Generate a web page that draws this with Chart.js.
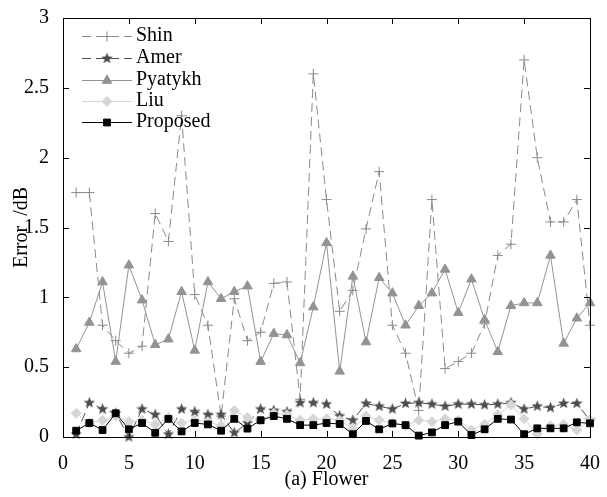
<!DOCTYPE html>
<html>
<head>
<meta charset="utf-8">
<script src="https://cdn.jsdelivr.net/npm/chart.js@4"></script>
<style>
  html, body { margin: 0; padding: 0; background: #fff; }
  #wrap { width: 607px; height: 497px; }
</style>
</head>
<body>
<div id="wrap"><canvas id="errorChart" width="607" height="497"></canvas></div>
<script>
const xValues = [1,2,3,4,5,6,7,8,9,10,11,12,13,14,15,16,17,18,19,20,21,22,23,24,25,26,27,28,29,30,31,32,33,34,35,36,37,38,39,40];
const shinVals = [1.75,1.75,0.80,0.69,0.60,0.65,1.60,1.40,2.30,1.02,0.80,0.15,0.99,0.69,0.75,1.10,1.11,0.27,2.60,1.70,0.90,1.05,1.49,1.90,0.80,0.60,0.19,1.70,0.49,0.54,0.60,0.81,1.30,1.38,2.70,2.00,1.54,1.54,1.70,0.80];
const amerVals = [0.02,0.245,0.20,0.17,0.00,0.20,0.16,0.02,0.20,0.18,0.16,0.16,0.03,0.10,0.20,0.19,0.18,0.245,0.245,0.235,0.15,0.12,0.24,0.22,0.20,0.24,0.245,0.235,0.22,0.235,0.235,0.23,0.235,0.245,0.20,0.22,0.21,0.24,0.24,0.12];
const pyatykhVals = [0.63,0.82,1.11,0.54,1.23,0.98,0.66,0.70,1.04,0.62,1.11,0.99,1.04,1.08,0.54,0.74,0.73,0.53,0.93,1.39,0.47,1.15,0.68,1.14,1.03,0.80,0.94,1.03,1.20,0.89,1.13,0.84,0.61,0.94,0.96,0.96,1.30,0.67,0.85,0.96];
const liuVals = [0.17,0.10,0.12,0.15,0.11,0.12,0.09,0.14,0.10,0.12,0.11,0.08,0.19,0.14,0.12,0.17,0.16,0.12,0.13,0.13,0.12,0.06,0.15,0.12,0.10,0.08,0.12,0.11,0.13,0.12,0.05,0.09,0.16,0.23,0.13,0.02,0.08,0.09,0.05,0.12];
const proposedVals = [0.045,0.10,0.05,0.17,0.055,0.10,0.03,0.13,0.04,0.10,0.09,0.045,0.13,0.06,0.12,0.15,0.13,0.085,0.085,0.10,0.093,0.02,0.115,0.055,0.097,0.085,0.01,0.033,0.085,0.11,0.014,0.055,0.13,0.125,0.02,0.062,0.062,0.062,0.105,0.098];
const xTicks = [0,5,10,15,20,25,30,35,40];
const yTicks = [0,0.5,1,1.5,2,2.5,3];

const serif = "'Liberation Serif', 'Times New Roman', serif";

// filled five point star, chart.js has no such point style
function makeStar(color) {
    const c = document.createElement('canvas');
    c.width = 13; c.height = 13;
    const g = c.getContext('2d');
    g.fillStyle = color;
    g.beginPath();
    for (let i = 0; i < 10; i++) {
        const r = i % 2 === 0 ? 6 : 2.6;
        const a = -Math.PI / 2 + i * Math.PI / 5;
        const px = 6.5 + r * Math.cos(a), py = 6.5 + r * Math.sin(a);
        if (i === 0) g.moveTo(px, py); else g.lineTo(px, py);
    }
    g.closePath();
    g.fill();
    return c;
}

function toPoints(vals) {
    return vals.map((v, i) => ({x: xValues[i], y: v}));
}

const datasets = [
    {label: 'Shin', data: toPoints(shinVals), borderColor: '#8a8a8a', backgroundColor: '#8a8a8a',
     borderDash: [9, 5], pointStyle: 'cross', pointRadius: 5, pointBorderWidth: 1, order: 4},
    {label: 'Amer', data: toPoints(amerVals), borderColor: '#4d4d4d', backgroundColor: '#4d4d4d',
     borderDash: [9, 5], pointStyle: makeStar('#4d4d4d'), pointRadius: 6, order: 3},
    {label: 'Pyatykh', data: toPoints(pyatykhVals), borderColor: '#939393', backgroundColor: '#939393',
     pointStyle: 'triangle', pointRadius: 5.5, pointBorderWidth: 1, order: 2},
    {label: 'Liu', data: toPoints(liuVals), borderColor: '#d6d6d6', backgroundColor: '#d6d6d6',
     pointStyle: 'rectRot', pointRadius: 5, pointBorderWidth: 1, order: 1},
    {label: 'Proposed', data: toPoints(proposedVals), borderColor: '#000000', backgroundColor: '#000000',
     pointStyle: 'rect', pointRadius: 4.8, pointBorderWidth: 1, order: 0}
];
datasets.forEach(d => {
    d.borderWidth = 1;
    d.tension = 0;
    d.fill = false;
    d.clip = false;
    d.pointHoverRadius = d.pointRadius;
});

// box, inward ticks and legend like the matlab figure
const boxPlugin = {
    id: 'boxPlugin',
    afterDraw(chart) {
        const ctx = chart.ctx;
        const a = chart.chartArea;
        const xs = chart.scales.x, ys = chart.scales.y;
        ctx.save();
        ctx.strokeStyle = '#000';
        ctx.lineWidth = 1;
        ctx.strokeRect(Math.round(a.left) + 0.5, Math.round(a.top) + 0.5,
            Math.round(a.right - a.left), Math.round(a.bottom - a.top));
        ctx.beginPath();
        xTicks.forEach(t => {
            const px = Math.round(xs.getPixelForValue(t)) + 0.5;
            ctx.moveTo(px, a.bottom); ctx.lineTo(px, a.bottom - 6);
            ctx.moveTo(px, a.top); ctx.lineTo(px, a.top + 6);
        });
        yTicks.forEach(t => {
            const py = Math.round(ys.getPixelForValue(t)) + 0.5;
            ctx.moveTo(a.left, py); ctx.lineTo(a.left + 6, py);
            ctx.moveTo(a.right, py); ctx.lineTo(a.right - 6, py);
        });
        ctx.stroke();

        // legend
        const rowY = [36, 58, 80, 101, 122];
        chart.data.datasets.forEach((ds, i) => {
            const y = rowY[i];
            ctx.strokeStyle = ds.borderColor;
            ctx.fillStyle = ds.backgroundColor;
            ctx.lineWidth = 1;
            ctx.setLineDash(ds.borderDash || []);
            ctx.beginPath();
            ctx.moveTo(82, y + 0.5); ctx.lineTo(132, y + 0.5);
            ctx.stroke();
            ctx.setLineDash([]);
            Chart.helpers.drawPoint(ctx, {pointStyle: ds.pointStyle, radius: ds.pointRadius,
                rotation: 0, borderWidth: 1}, 107, y + 0.5);
            ctx.fillStyle = '#000';
            ctx.font = '20px ' + serif;
            ctx.textBaseline = 'middle';
            ctx.textAlign = 'left';
            ctx.fillText(ds.label, 136, y);
        });
        ctx.restore();
    }
};

new Chart(document.getElementById('errorChart').getContext('2d'), {
    type: 'line',
    data: {datasets: datasets},
    options: {
        responsive: false,
        animation: false,
        layout: {padding: {left: 0, right: 7, top: 16, bottom: 0}},
        plugins: {legend: {display: false}, tooltip: {enabled: false}},
        scales: {
            x: {
                type: 'linear', min: 0, max: 40,
                afterBuildTicks: s => { s.ticks = xTicks.map(v => ({value: v})); },
                afterFit: s => { s.height = 60; },
                grid: {display: false},
                border: {display: false},
                ticks: {color: '#000', padding: 7, maxRotation: 0, font: {family: serif, size: 20},
                        callback: v => String(v)},
                title: {display: true, text: '(a) Flower', color: '#000',
                        font: {family: serif, size: 20}, padding: {top: 0, bottom: 5}}
            },
            y: {
                type: 'linear', min: 0, max: 3,
                afterBuildTicks: s => { s.ticks = yTicks.map(v => ({value: v})); },
                afterFit: s => { s.width = 63; },
                grid: {display: false},
                border: {display: false},
                ticks: {color: '#000', padding: 6, font: {family: serif, size: 20},
                        callback: v => String(v)},
                title: {display: true, text: 'Error\u00a0\u00a0/dB', color: '#000',
                        font: {family: serif, size: 20}, padding: {top: 10, bottom: 0}}
            }
        }
    },
    plugins: [boxPlugin]
});
</script>
</body>
</html>
